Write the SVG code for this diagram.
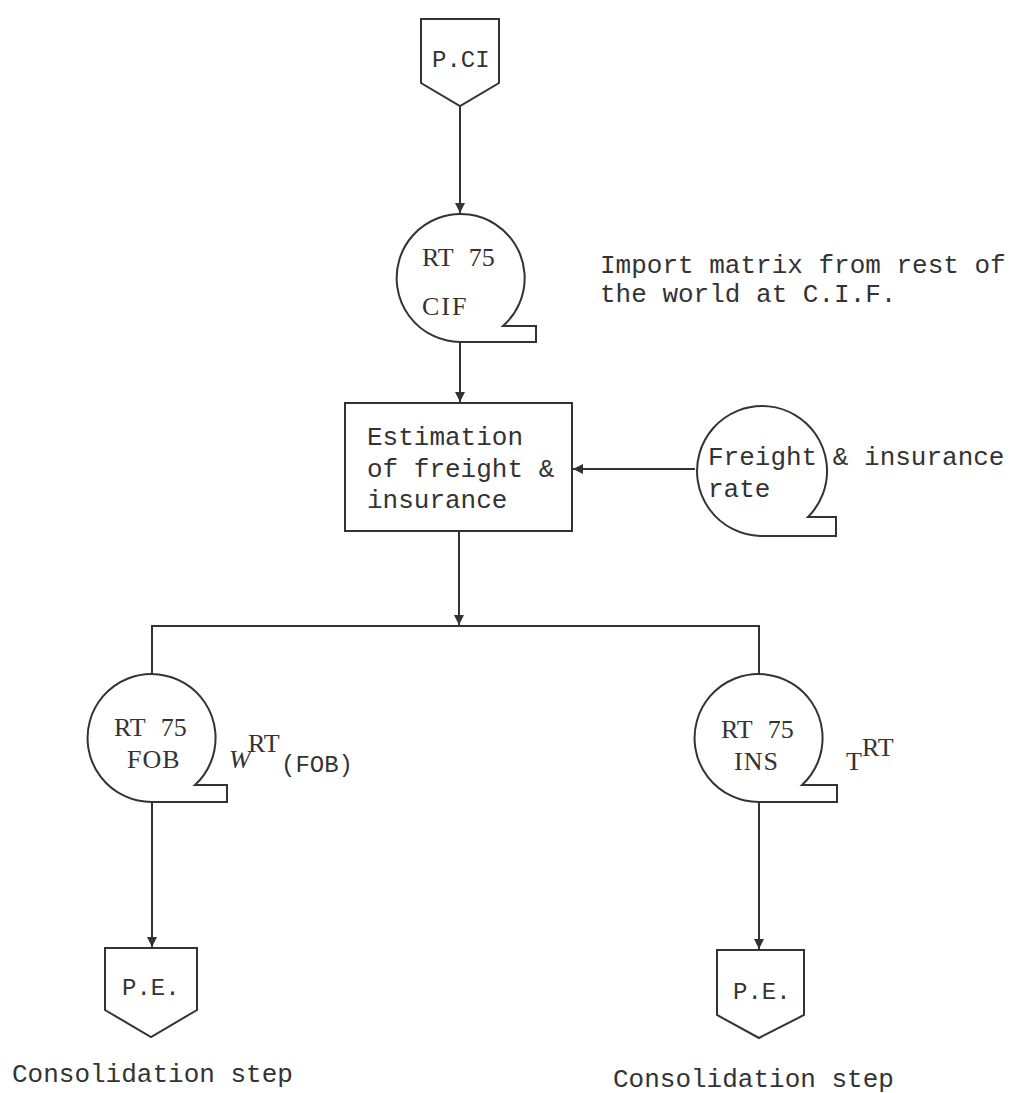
<svg xmlns="http://www.w3.org/2000/svg" width="1014" height="1093" viewBox="0 0 1014 1093">
<style>
.s{fill:none;stroke:#333;stroke-width:2;stroke-linejoin:miter}
.n{fill:#fff;stroke:#333;stroke-width:2}
.m{font-family:"Liberation Mono","DejaVu Sans Mono",monospace;font-size:26px;fill:#333}
.ms{font-family:"Liberation Mono","DejaVu Sans Mono",monospace;font-size:24px;fill:#333}
.r{font-family:"Liberation Serif","DejaVu Serif",serif;font-size:26px;fill:#333}
</style>
<defs>
<marker id="a" markerUnits="userSpaceOnUse" markerWidth="10" markerHeight="10" refX="10" refY="5" orient="auto">
<path d="M0,0 L10,5 L0,10 Z" fill="#333"/>
</marker>
</defs>
<rect width="1014" height="1093" fill="#fff"/>
<g id="connectors" class="s">
<path d="M460,106 V213" marker-end="url(#a)"/>
<path d="M460,342 V402" marker-end="url(#a)"/>
<path d="M695,469 H573" marker-end="url(#a)"/>
<path d="M459,531 V625" marker-end="url(#a)"/>
<path d="M152,674 V626 H759 V674"/>
<path d="M152,802 V947" marker-end="url(#a)"/>
<path d="M759,802 V949" marker-end="url(#a)"/>
</g>
<g id="pci">
<path class="n" d="M421,19 H499 V83 L460,106 L421,83 Z"/>
<text class="ms" x="432" y="67">P.CI</text>
</g>
<g id="rt75cif">
<path class="n" d="M503,326 A64,64 0 1 0 460,342 H536 V326 Z"/>
<text class="r" x="422" y="266" word-spacing="9">RT 75</text>
<text class="r" x="422" y="315" letter-spacing="2">CIF</text>
</g>
<g id="import-note">
<text class="m" x="600" y="273">Import matrix from rest of</text>
<text class="m" x="600" y="302">the world at C.I.F.</text>
</g>
<g id="estimation">
<rect class="n" x="345" y="403" width="227" height="128"/>
<text class="m" x="367" y="445">Estimation</text>
<text class="m" x="367" y="477">of freight &amp;</text>
<text class="m" x="367" y="508">insurance</text>
</g>
<g id="freight">
<path class="n" d="M808,517 A65,65 0 1 0 760,536 H836 V517 Z"/>
<text class="m" x="708" y="465">Freight &amp; insurance</text>
<text class="m" x="708" y="497">rate</text>
</g>
<g id="rt75fob">
<path class="n" d="M195,785 A64,64 0 1 0 152,802 H227 V785 Z"/>
<text class="r" x="114" y="736" word-spacing="9">RT 75</text>
<text class="r" x="127" y="768" letter-spacing="1">FOB</text>
</g>
<g id="wrt">
<text class="r" x="229" y="768" font-style="italic" font-size="24">W</text>
<text class="r" x="248" y="752" font-size="22">RT</text>
<text class="ms" x="281" y="772">(FOB)</text>
</g>
<g id="rt75ins">
<path class="n" d="M802,785 A64,64 0 1 0 759,802 H837 V785 Z"/>
<text class="r" x="721" y="738" word-spacing="9">RT 75</text>
<text class="r" x="734" y="770" letter-spacing="1">INS</text>
</g>
<g id="trt">
<text class="r" x="846" y="770" font-size="24">T</text>
<text class="r" x="862" y="756" font-size="22">RT</text>
</g>
<g id="pe-left">
<path class="n" d="M105,948 H197 V1010 L151,1037 L105,1010 Z"/>
<text class="ms" x="122" y="995">P.E.</text>
</g>
<g id="pe-right">
<path class="n" d="M717,950 H804 V1015 L759,1038 L717,1015 Z"/>
<text class="ms" x="733" y="999">P.E.</text>
</g>
<text class="m" x="12" y="1082">Consolidation step</text>
<text class="m" x="613" y="1087">Consolidation step</text>
</svg>
